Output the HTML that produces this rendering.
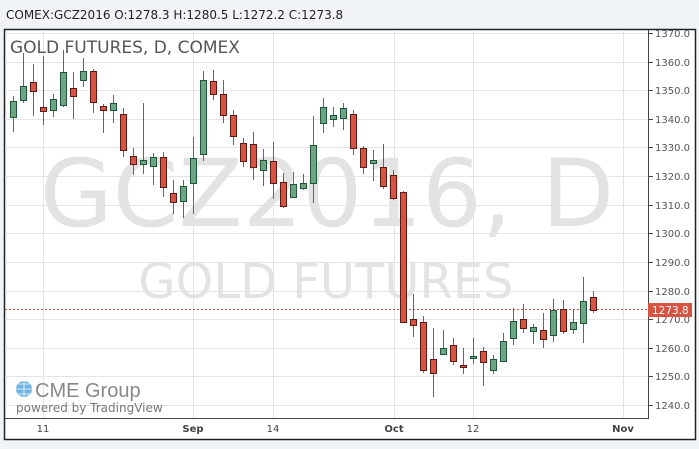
<!DOCTYPE html>
<html><head><meta charset="utf-8"><style>
body{margin:0;background:#f1f4f7;width:699px;height:444px;overflow:hidden;font-family:"Liberation Sans","DejaVu Sans",sans-serif}
</style></head><body>
<svg id="s" width="699" height="444" xmlns="http://www.w3.org/2000/svg" font-family="'DejaVu Sans','Liberation Sans',sans-serif">
<rect x="0" y="0" width="699" height="444" fill="#f1f4f7"/>
<text x="6" y="19" font-size="12" fill="#222">COMEX:GCZ2016 O:1278.3 H:1280.5 L:1272.2 C:1273.8</text>
<rect x="4.5" y="29.5" width="691" height="410" fill="#fff" stroke="#222" stroke-width="1.5"/>
<g id="grid" stroke="#e4e4e4" stroke-width="1"></g>
<text x="327" y="226" font-size="94" fill="#e3e3e3" text-anchor="middle">GCZ2016, D</text>
<text x="326" y="298" font-size="48" fill="#e3e3e3" text-anchor="middle">GOLD FUTURES</text>
<text x="10" y="53" font-size="17" fill="#555">GOLD FUTURES, D, COMEX</text>
<line x1="5" y1="309.5" x2="648" y2="309.5" stroke="#d75442" stroke-dasharray="2,2"/>
<g id="c"></g>
<line x1="648.5" y1="30" x2="648.5" y2="418" stroke="#444"/>
<line x1="5" y1="418.5" x2="649" y2="418.5" stroke="#444"/>
<g id="ax" font-size="10" fill="#555"></g>
<rect x="648" y="303" width="44" height="14" fill="#d75442"/>
<text x="652" y="314" font-size="10.5" fill="#fff">1273.8</text>
<circle cx="24" cy="389" r="8" fill="#6fb3e0"/>
<path d="M16 389h16M24 381v16M18 384h12M18 394h12" stroke="#fff" stroke-width="0.8"/>
<text x="35" y="397" font-size="20" fill="#888" font-family="'Liberation Sans',sans-serif">CME Group</text>
<text x="16" y="412" font-size="12" fill="#777">powered by TradingView</text>
<g font-size="10" fill="#444" text-anchor="middle">
<text x="43" y="432">11</text><text x="193" y="432" font-weight="bold">Sep</text><text x="273" y="432">14</text><text x="394" y="432" font-weight="bold">Oct</text><text x="473" y="432">12</text><text x="623" y="432" font-weight="bold">Nov</text>
</g>
</svg>
<script>
var NS="http://www.w3.org/2000/svg";
function el(p,t,a){var e=document.createElementNS(NS,t);for(var k in a)e.setAttribute(k,a[k]);p.appendChild(e);return e;}
var g=document.getElementById('grid'),ax=document.getElementById('ax');
[43,193,273,394,473,623].forEach(function(x){el(g,'line',{x1:x+.5,y1:30,x2:x+.5,y2:418});});
for(var p=1240;p<=1370;p+=10){var y=405-(p-1240)*2.862;y=Math.round(y);
el(g,'line',{x1:5,y1:y+.5,x2:648,y2:y+.5});
el(ax,'line',{x1:649,y1:y+.5,x2:653,y2:y+.5,stroke:'#444'});
var t=el(ax,'text',{x:655,y:y+4});t.textContent=p+'.0';}
var d=[
'G101 117 96 132','G86 100 53 103','R82 91 64 116','R107 111 56 125','G99 110 94 117','G72 105 50 107','R88 96 72 119','G71 80 58 87','R71 102 69 113','R106 110 104 133',
'G103 110 95 123','R114 150 108 157','R156 164 148 175','G160 164 103 174','G157 166 153 185','R157 187 152 197','R193 202 180 214','G186 201 180 218','G158 183 137 214','G80 154 71 161',
'R81 94 70 100','R94 115 80 123','R115 136 110 145','R143 161 138 167','R144 167 132 180','G160 170 149 186','R161 183 142 199','R182 206 173 208','G184 197 172 198','G183 188 174 190',
'G145 183 116 203','G107 123 98 133','G115 119 107 127','G108 118 103 130','R114 148 110 155','R148 167 146 174','G160 163 150 181','R167 186 144 189','R175 198 170 200','R192 322 191 323',
'R319 325 294 337','R322 370 316 373','R359 373 328 397','G348 354 330 354','R345 361 338 365','R365 367 348 374','G356 358 338 364','R351 362 347 386','G359 370 355 374','G341 361 333 361',
'G321 338 308 345','R319 328 304 333','G327 331 324 344','R330 339 313 348','G310 335 299 342','R309 331 300 334','G322 329 310 334','G301 323 277 343','R297 310 291 313'];
var c=document.getElementById('c');
d.forEach(function(s,i){var col=s[0],v=s.slice(1).split(' ').map(Number);var x=13+i*10;
el(c,'line',{x1:x+.5,y1:v[2],x2:x+.5,y2:v[3],stroke:'#666'});
el(c,'rect',{x:x-2.5,y:v[0]+.5,width:6,height:Math.max(v[1]-v[0],1),fill:col=='G'?'#6ba583':'#d75442',stroke:col=='G'?'#225437':'#5b1a13'});});
</script>
</body></html>
